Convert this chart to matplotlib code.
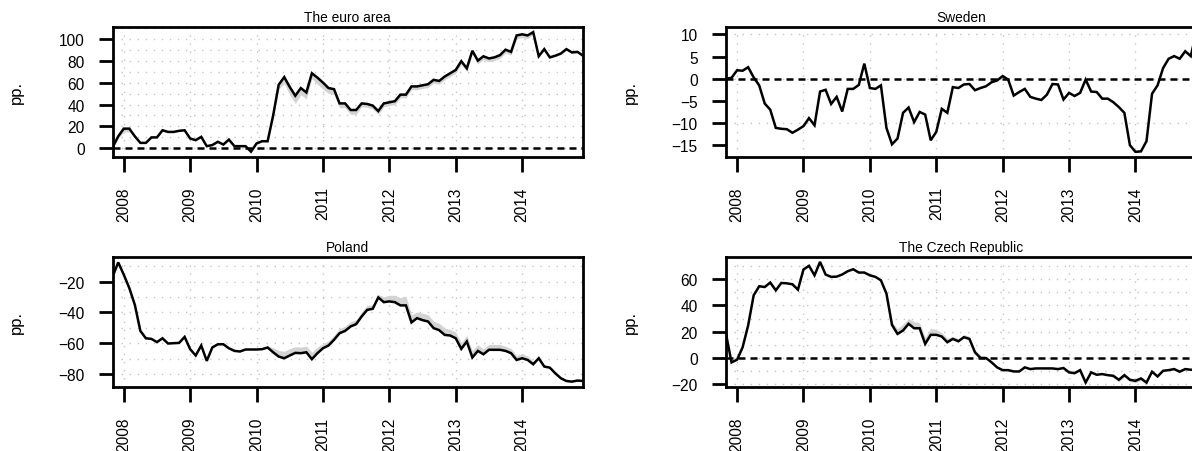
import matplotlib
matplotlib.use('Agg')
import matplotlib.pyplot as plt
import numpy as np

plt.rcParams['font.family'] = ['Liberation Sans', 'DejaVu Sans']

# ---------------- data (monthly, Nov 2007 - Dec 2014) ----------------
start_year = 2007
start_month = 11
year_ticks = [2008, 2009, 2010, 2011, 2012, 2013, 2014]

titles = ["The euro area", "Sweden", "Poland", "The Czech Republic"]
ylabel = "pp."

euro = [1, 11, 18, 18, 11, 5, 5, 10, 10, 16.5, 15, 15, 16, 16.5, 9, 7.5, 10.5, 2, 3, 6, 3.5, 8,
        2, 2, 2, -3, 4.5, 6.5, 6.5, 30, 58, 65, 56, 48, 55, 51, 68.5, 64.5,
        60, 55, 54, 41, 41, 35, 35, 41, 40.5, 39, 34,
        41, 42, 43, 49, 49, 56.5, 56.5, 57.5, 58.5, 62.5, 61.5, 65.5, 68.5, 71.5,
        79.5, 73, 89, 80, 84, 82, 83, 85, 90, 88, 103, 104, 103, 106,
        84, 90.5, 83, 84.5, 86.5, 90.5, 87.5, 88, 84.5]
euro_band_below = [0, 2, 3, 3, 1,
                   0.5, 0.5, 0.5, 0.5, 0.5, 0.5, 0.5, 0.5, 0.5, 0.5, 0.5, 0.5,
                   0.5, 0.5, 0.5, 0.5, 0.5, 0.5, 0.5, 0.5, 0.5, 0.5, 0.5, 0.5,
                   2, 4, 6, 7, 7, 6, 6, 5, 6, 6, 5, 5, 4, 4, 4, 4, 3, 3, 3, 3,
                   3, 3, 3, 3, 3, 3, 3, 3, 3, 3, 3, 3, 3, 3, 3, 3, 3, 3, 3, 3, 3, 3, 3, 3, 3, 3, 3,
                   2, 1, 1, 1, 1, 1, 1, 1, 1, 1]
euro_band_above = [0, 0.5, 0.5, 0.5, 0, 0, 0, 0, 0, 0, 0, 0, 0, 0, 0, 0, 0, 0, 0, 0, 0, 0,
                   0, 0, 0, 0, 0, 0, 0, 0, 0.5, 1, 1, 1, 1, 1, 1, 1, 1, 1, 1, 1, 1, 1, 1,
                   1, 1, 1, 1, 0.5, 0.5, 0.5, 0.5, 0.5, 0.5, 0.5, 0.5, 0.5, 0.5, 0.5, 0.5,
                   0.5, 0.5, 0.5, 0.5, 0.5, 0.5, 0.5, 0.5, 0.5, 0.5, 0.5, 0.5, 0.5, 0.5,
                   0.5, 0.5, 0, 0, 0, 0, 0, 0, 0, 0, 0]

sweden = [0, 0.2, 1.9, 1.8, 2.6, 0.3, -1.5, -5.6, -7, -11.1,
          -11.3, -11.4, -12.2, -11.5, -10.7, -8.9, -10.5, -2.9, -2.5, -5.7,
          -4.1, -7.4, -2.3, -2.3, -1.4, 3.4, -2.1, -2.3, -1.5, -11.1,
          -14.8, -13.5, -7.7, -6.5, -9.8, -7.5, -8.1, -13.9, -12, -6.8,
          -7.7, -1.9, -2.1, -1.3, -1.2, -2.6, -2.1, -1.7, -0.8, -0.4,
          0.6, -0.2, -3.8, -3, -2.3, -4.1, -4.5, -4.8, -3.6, -1.2,
          -1.3, -4.7, -3.2, -3.9, -3.2, -0.2, -2.9, -3, -4.5, -4.5,
          -5.3, -6.4, -7.7, -15, -16.5, -16.4, -14.1, -3.4, -1.5, 2.4,
          4.5, 5.1, 4.5, 6.2, 5.1, 10.5]

poland = [-16.5, -7.4, -15.4, -24.1, -35, -52, -56.8, -57.2, -59.3, -56.8,
          -60.2, -60, -59.8, -55.9, -63.9, -68, -61.5, -71.5, -62.8, -60.7,
          -60.7, -63.3, -65, -65.4, -64.1, -64.1, -64.1, -63.9, -62.8, -65.9,
          -68.7, -69.8, -68, -66.3, -66.5, -65.9, -70.4, -66.5, -63.3, -61.5,
          -57.8, -53.5, -52, -49.1, -47.6, -42.6, -38.3, -37.6, -30.2, -33.3,
          -32.8, -33.3, -35.4, -35.4, -46.5, -43.7, -45, -45.9, -50.2, -51.5,
          -54.6, -55, -56.8, -63.7, -58.9, -69.3, -65, -67.2, -64.3, -64.3,
          -64.3, -65, -66.5, -70.9, -69.8, -70.9, -73.7, -69.8, -75.2, -75.9,
          -79.6, -82.8, -84.6, -85, -84.3, -84.6]
poland_band_above = [0, 0, 0, 0, 0, 0, 0, 0, 0, 0, 0, 0, 0, 0, 0, 0, 0, 0, 0, 0,
                     0, 0, 0, 0, 0, 0, 0, 0, 1, 3,
                     4, 4.5, 4.5, 4, 4, 4, 4.5, 4, 3, 3,
                     3, 3, 3, 3, 3, 3, 3, 2.5, 2, 3.5,
                     4, 4.5, 5, 6, 5, 4, 4.5, 4.5, 4.5, 4.5,
                     4.5, 4, 4, 4, 4, 4.5, 4, 3.5, 3.5, 3.5,
                     3.5, 3, 3, 3, 3, 2.5, 2, 1.5, 1, 0,
                     0, 0, 0, 0, 0, 0]
poland_band_below = [0, 0, 0, 0, 0, 0, 0, 0, 0, 0, 0, 0, 0, 0, 0, 0, 0, 0, 0, 0,
                     0, 0, 0, 0, 0, 0, 0, 0, 0, 0, 0, 0, 0, 0, 0, 0, 0, 0, 0, 0,
                     0, 0, 0, 0, 0, 0, 0, 0, 0, 0, 0, 0, 0, 0, 0, 0, 0, 0, 0, 0,
                     0, 0, 0, 0, 0, 0, 0, 0, 0, 0, 0, 0, 0, 0, 0, 0, 0, 0, 0, 0,
                     0, 0, 0, 0, 0, 0]

czech = [18.3, -3.3, -1.3, 8.1, 24.7, 47.6, 54.5, 53.9, 57.3, 51.4,
         57, 56.7, 56, 51.9, 67.2, 70, 62.8, 73, 63.4, 61.6,
         61.8, 63.4, 65.9, 67.4, 64.9, 64.9, 62.8, 61.6, 59, 48.9,
         25.2, 18.3, 20.9, 26, 22.6, 22.6, 10.7, 17.6, 17.6, 16.3,
         12, 14.5, 12.7, 15.8, 14.5, 4.3, 0, 0, -3.3, -7.1,
         -9.2, -9.2, -10.2, -10.2, -7.1, -8.4, -7.9, -7.9, -7.9, -7.9,
         -8.4, -7.6, -10.9, -11.5, -9.2, -18.6, -10.9, -12.7, -12.2, -13,
         -13.5, -16.5, -13, -16.5, -17.3, -15.5, -18.6, -10.4, -14, -9.7,
         -9.2, -8.4, -10.4, -8.4, -8.9, -9]
czech_band_above = [0, 0, 0, 0, 0, 0, 0, 0, 0, 0, 0, 0, 0, 0, 0, 0, 0, 0, 0, 0,
                    0, 0, 0, 0, 0, 0, 0, 0, 0, 0.5,
                    2, 4, 5, 4, 5, 4, 5, 5, 4, 3,
                    3, 2, 2, 2, 2, 2, 2, 1, 0.5, 0,
                    0, 0, 0, 0, 0, 0, 0, 0, 0, 0,
                    0, 0, 0, 0, 0, 0, 0, 0, 0, 0,
                    0, 0, 0, 0, 0, 0, 0, 0, 0, 0,
                    0, 0, 0, 0, 0, 0]
czech_band_below = [0, 0, 0, 0, 0, 0, 0, 0, 0, 0, 0, 0, 0, 0, 0, 0, 0, 0, 0, 0,
                    0, 0, 0, 0, 0, 0, 0, 0, 0, 0, 0, 0, 0, 0, 0, 0, 0, 0, 0, 0,
                    0, 0, 0, 0, 0, 0, 0, 0, 0, 0, 0, 0, 0, 0, 0, 0, 0, 0, 0, 0,
                    0, 0, 0, 0, 0, 0, 0, 0, 0, 0,
                    1.5, 1.5, 1.5, 1.5, 1.5, 1.5, 1.5, 0, 0, 0,
                    0, 0, 0, 0, 0, 0]

euro_yticks = [0, 20, 40, 60, 80, 100]
sweden_yticks = [-15, -10, -5, 0, 5, 10]
poland_yticks = [-80, -60, -40, -20]
czech_yticks = [-20, 0, 20, 40, 60]

# ---------------- layout ----------------
W, H = 1192, 452
fig = plt.figure(figsize=(W / 100, H / 100), dpi=100)


def px_axes(left, top, right, bottom):
    return fig.add_axes([left / W, 1 - bottom / H, (right - left) / W, (bottom - top) / H])


panels = [
    dict(ax=px_axes(112.7, 28.3, 583.0, 157.7), title=titles[0], y=euro,
         lo=euro_band_below, hi=euro_band_above, yticks=euro_yticks, ylim=(-7.6, 110.4), lab_x=16.7),
    dict(ax=px_axes(726.0, 28.3, 1196.3, 157.7), title=titles[1], y=sweden,
         lo=None, hi=None, yticks=sweden_yticks, ylim=(-17.6, 11.6), lab_x=630.0),
    dict(ax=px_axes(112.7, 258.0, 583.0, 388.0), title=titles[2], y=poland,
         lo=poland_band_below, hi=poland_band_above, yticks=poland_yticks, ylim=(-88.5, -3.9), lab_x=16.7),
    dict(ax=px_axes(726.0, 258.0, 1196.3, 388.0), title=titles[3], y=czech,
         lo=czech_band_below, hi=czech_band_above, yticks=czech_yticks, ylim=(-22.0, 76.7), lab_x=630.0),
]

grid_col = '#C4C4C4'
band_col = '#D3D3D3'

for p in panels:
    ax = p['ax']
    y = np.array(p['y'], dtype=float)
    n = len(y)
    t = start_year + (start_month - 1) / 12 + np.arange(n) / 12
    ax.set_xlim(t[0], t[-1])
    ax.set_ylim(*p['ylim'])

    # dotted grid
    lo_g = np.ceil(p['ylim'][0] / 10) * 10
    for gy in np.arange(lo_g, p['ylim'][1], 10):
        ax.axhline(gy, color=grid_col, lw=1.0, ls=(0, (1.0, 4.8)), zorder=0.5)
    for gx in year_ticks:
        ax.axvline(gx, color=grid_col, lw=1.0, ls=(0, (1.0, 4.8)), zorder=0.5)

    # uncertainty band
    if p['lo'] is not None:
        lo = y - np.array(p['lo'], dtype=float)
        hi = y + np.array(p['hi'], dtype=float)
        ax.fill_between(t, lo, hi, color=band_col, lw=0, zorder=1)

    ax.axhline(0, color='black', lw=1.8, ls=(0, (2.8, 2.0)), zorder=2)
    ax.plot(t, y, color='black', lw=1.8, zorder=3, solid_joinstyle='miter')

    ax.set_xticks(year_ticks)
    ax.set_xticklabels([str(v) for v in year_ticks], rotation=90)
    ax.set_yticks(p['yticks'])
    ax.set_yticklabels([('\u2212' + str(abs(v))) if v < 0 else str(v) for v in p['yticks']])
    ax.tick_params(axis='y', length=10.3, width=2.0, pad=10.0, labelsize=11.2)
    ax.tick_params(axis='x', length=10.8, width=2.0, pad=10.5, labelsize=11.2)
    for s in ax.spines.values():
        s.set_linewidth(2.0)
    ax.set_title(p['title'], fontsize=9.9, pad=4.3)

    pos = ax.get_position()
    fig.text(p['lab_x'] / W, pos.y0 + pos.height / 2, ylabel, rotation=90,
             ha='center', va='center', fontsize=12)

fig.savefig('out.png', dpi=100)
